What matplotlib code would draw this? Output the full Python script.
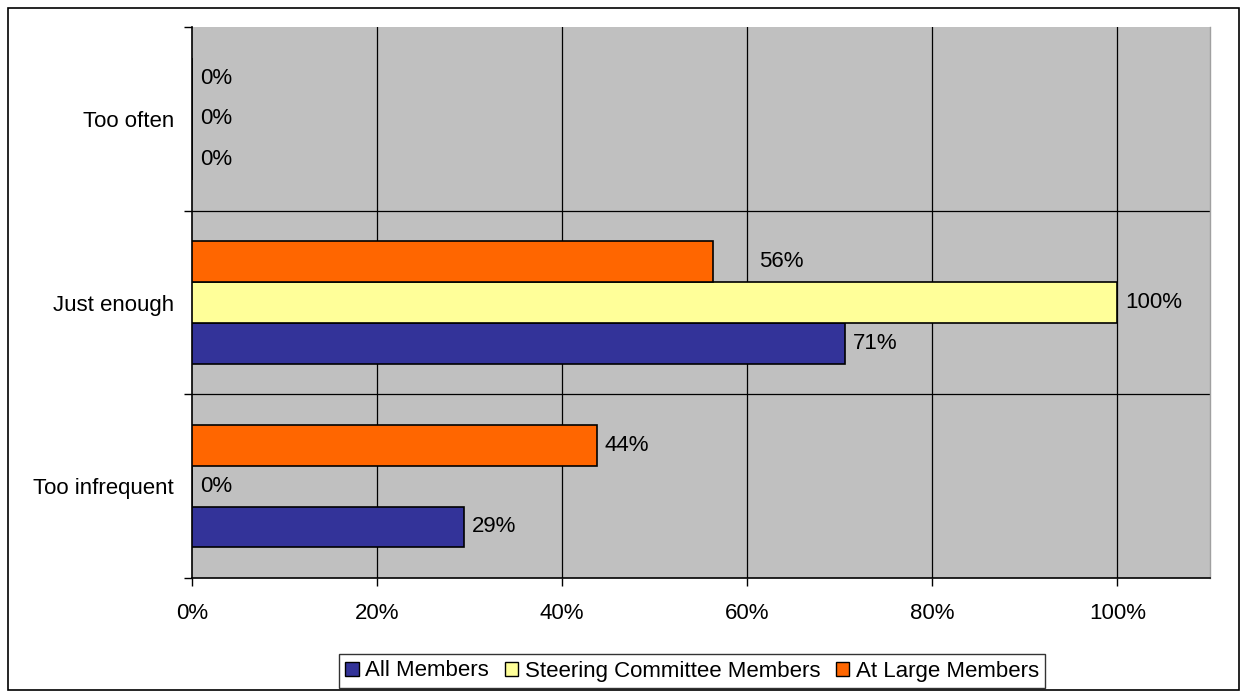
import matplotlib
matplotlib.use("Agg")
import matplotlib.pyplot as plt
from matplotlib.patches import Rectangle, Patch
import numpy as np

plt.rcParams['font.family'] = ['Liberation Sans', 'DejaVu Sans']

categories = ["Too infrequent", "Just enough", "Too often"]  # bottom to top
series_names = ["All Members", "Steering Committee Members", "At Large Members"]
all_members = [29.4, 70.6, 0.0]
steering = [0.0, 100.0, 0.0]
at_large = [43.75, 56.25, 0.0]
labels_all = ["29%", "71%", "0%"]
labels_steer = ["0%", "100%", "0%"]
labels_large = ["44%", "56%", "0%"]
xticks = [0, 20, 40, 60, 80, 100]
xtick_labels = ["0%", "20%", "40%", "60%", "80%", "100%"]

colors = ["#333399", "#FFFF99", "#FF6600"]
FS = 16

fig = plt.figure(figsize=(12.47, 6.96), dpi=100)
W, H = 1247, 696
ax = fig.add_axes([192 / W, 1 - 578 / H, (1210 - 192) / W, (578 - 27) / H])
ax.set_facecolor("#C0C0C0")

y = np.arange(len(categories))
h = 1 / 4.5
offsets = [-h, 0, h]
values = [all_members, steering, at_large]
labs = [labels_all, labels_steer, labels_large]

ax.set_xlim(0, 110)
ax.set_ylim(-0.5, len(categories) - 0.5)

# gridlines
for xv in xticks[1:]:
    ax.axvline(xv, color="black", lw=0.9, zorder=1)
for b in [0.5, 1.5]:
    ax.axhline(b, color="black", lw=0.9, zorder=1)

for vals, off, c, lab, name in zip(values, offsets, colors, labs, series_names):
    ax.barh(y + off, vals, height=h, color=c, edgecolor="black", linewidth=1.2,
            zorder=3, label=name)
    for yi, v, t in zip(y, vals, lab):
        extra = 46 if (name == "At Large Members" and t == "56%") else 8
        ax.annotate(t, xy=(v, yi + off), xytext=(extra * 0.72, 0),
                    textcoords="offset points", ha="left", va="center",
                    fontsize=FS, color="black", zorder=4)

# axes styling
ax.set_xticks(xticks)
ax.set_xticklabels(xtick_labels, fontsize=FS)
ax.tick_params(axis="x", length=6, width=1, color="black", pad=12)
ax.set_yticks(y)
ax.set_yticklabels(categories, fontsize=FS)
ax.tick_params(axis="y", which="major", length=0, pad=13)
ax.set_yticks([-0.5, 0.5, 1.5, 2.5], minor=True)
ax.tick_params(axis="y", which="minor", length=6, width=1, color="black")

ax.spines["top"].set_visible(False)
ax.spines["right"].set_color("#A0A0A0")
ax.spines["right"].set_linewidth(1)
ax.spines["left"].set_color("black")
ax.spines["left"].set_linewidth(1.2)
ax.spines["bottom"].set_color("black")
ax.spines["bottom"].set_linewidth(1.2)

# legend
handles = [Patch(facecolor=c, edgecolor="black", linewidth=1) for c in colors]
leg = fig.legend(handles, series_names, loc="center",
                 bbox_to_anchor=(692 / W, 1 - 671 / H), ncol=3, fontsize=FS,
                 frameon=True, fancybox=False, edgecolor="black",
                 handlelength=0.6, handleheight=0.6, handletextpad=0.3,
                 columnspacing=0.7, borderpad=0.3, borderaxespad=0)
leg.get_frame().set_linewidth(1)

# outer border
fig.patches.append(Rectangle((8 / W, 1 - 690 / H), (1239 - 8) / W, (690 - 8) / H,
                             transform=fig.transFigure, fill=False,
                             edgecolor="black", linewidth=1.2))

fig.savefig("out.png", dpi=100)
